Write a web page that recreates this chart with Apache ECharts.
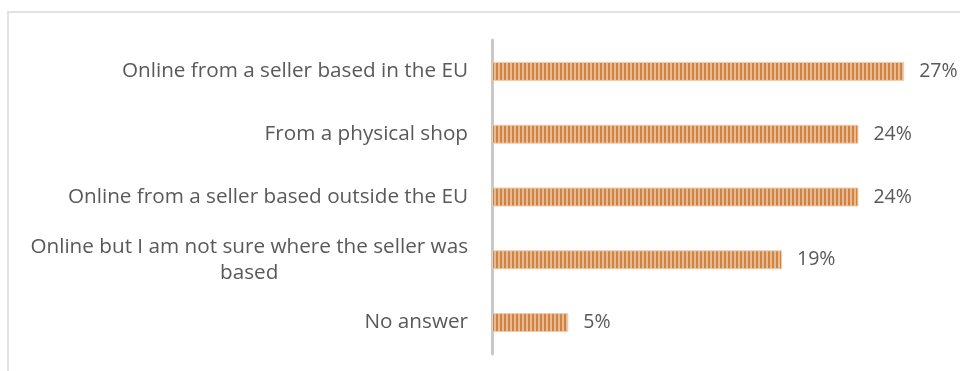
<!DOCTYPE html>
<html>
<head>
<meta charset="utf-8">
<script src="https://cdn.jsdelivr.net/npm/echarts@6/dist/echarts.min.js"></script>
<style>
  html, body { margin: 0; padding: 0; background: #fff; }
  #chart { width: 960px; height: 371px; }
</style>
</head>
<body>
<div id="chart"></div>
<script>
// Where the purchase was made (share of respondents, %)
const categories = [
  'Online from a seller based in the EU',
  'From a physical shop',
  'Online from a seller based outside the EU',
  'Online but I am not sure where the seller was\nbased',
  'No answer'
];
const values = [27, 24, 24, 19, 5];

// Vertical striped fill for the bars
function stripePattern() {
  const c = document.createElement('canvas');
  c.width = 4; c.height = 4;
  const ctx = c.getContext('2d');
  ctx.fillStyle = '#e6bc98';
  ctx.fillRect(0, 0, 4, 4);
  ctx.fillStyle = '#d3823e';
  ctx.fillRect(0, 0, 2, 4);
  return c;
}

const chart = echarts.init(document.getElementById('chart'), null, { renderer: 'canvas' });
const font = '"Open Sans", sans-serif';
const fs = 20.7;

chart.setOption({
  animation: false,
  backgroundColor: '#fff',
  grid: { left: 492, right: 10, top: 40, bottom: 17 },
  xAxis: {
    type: 'value', min: 0, max: 30, show: false
  },
  yAxis: {
    type: 'category',
    inverse: true,
    data: categories,
    axisLine: { show: true, lineStyle: { color: '#c8c8c8', width: 3 } },
    axisTick: { show: false },
    splitLine: { show: false },
    axisLabel: {
      margin: 24,
      color: '#595959',
      fontFamily: font,
      fontSize: fs,
      lineHeight: 26,
      formatter: function (v) {
        return v.split('\n').map(function (s) { return '{c|' + s + '}'; }).join('\n');
      },
      rich: { c: { align: 'center', color: '#595959', fontFamily: font, fontSize: fs, lineHeight: 26 } }
    }
  },
  series: [{
    type: 'bar',
    data: values,
    barWidth: 19,
    itemStyle: {
      color: { image: stripePattern(), repeat: 'repeat' },
      borderColor: '#ebcdb0',
      borderWidth: 1
    },
    label: {
      show: true,
      position: 'right',
      distance: 15,
      formatter: '{c}%',
      color: '#595959',
      fontFamily: font,
      fontSize: 19.5
    }
  }],
  graphic: [{
    type: 'polyline',
    shape: { points: [[8, 371], [8, 12], [960, 12]] },
    style: { stroke: '#d9d9d9', lineWidth: 1.5, fill: null },
    silent: true
  }]
});
</script>
</body>
</html>
